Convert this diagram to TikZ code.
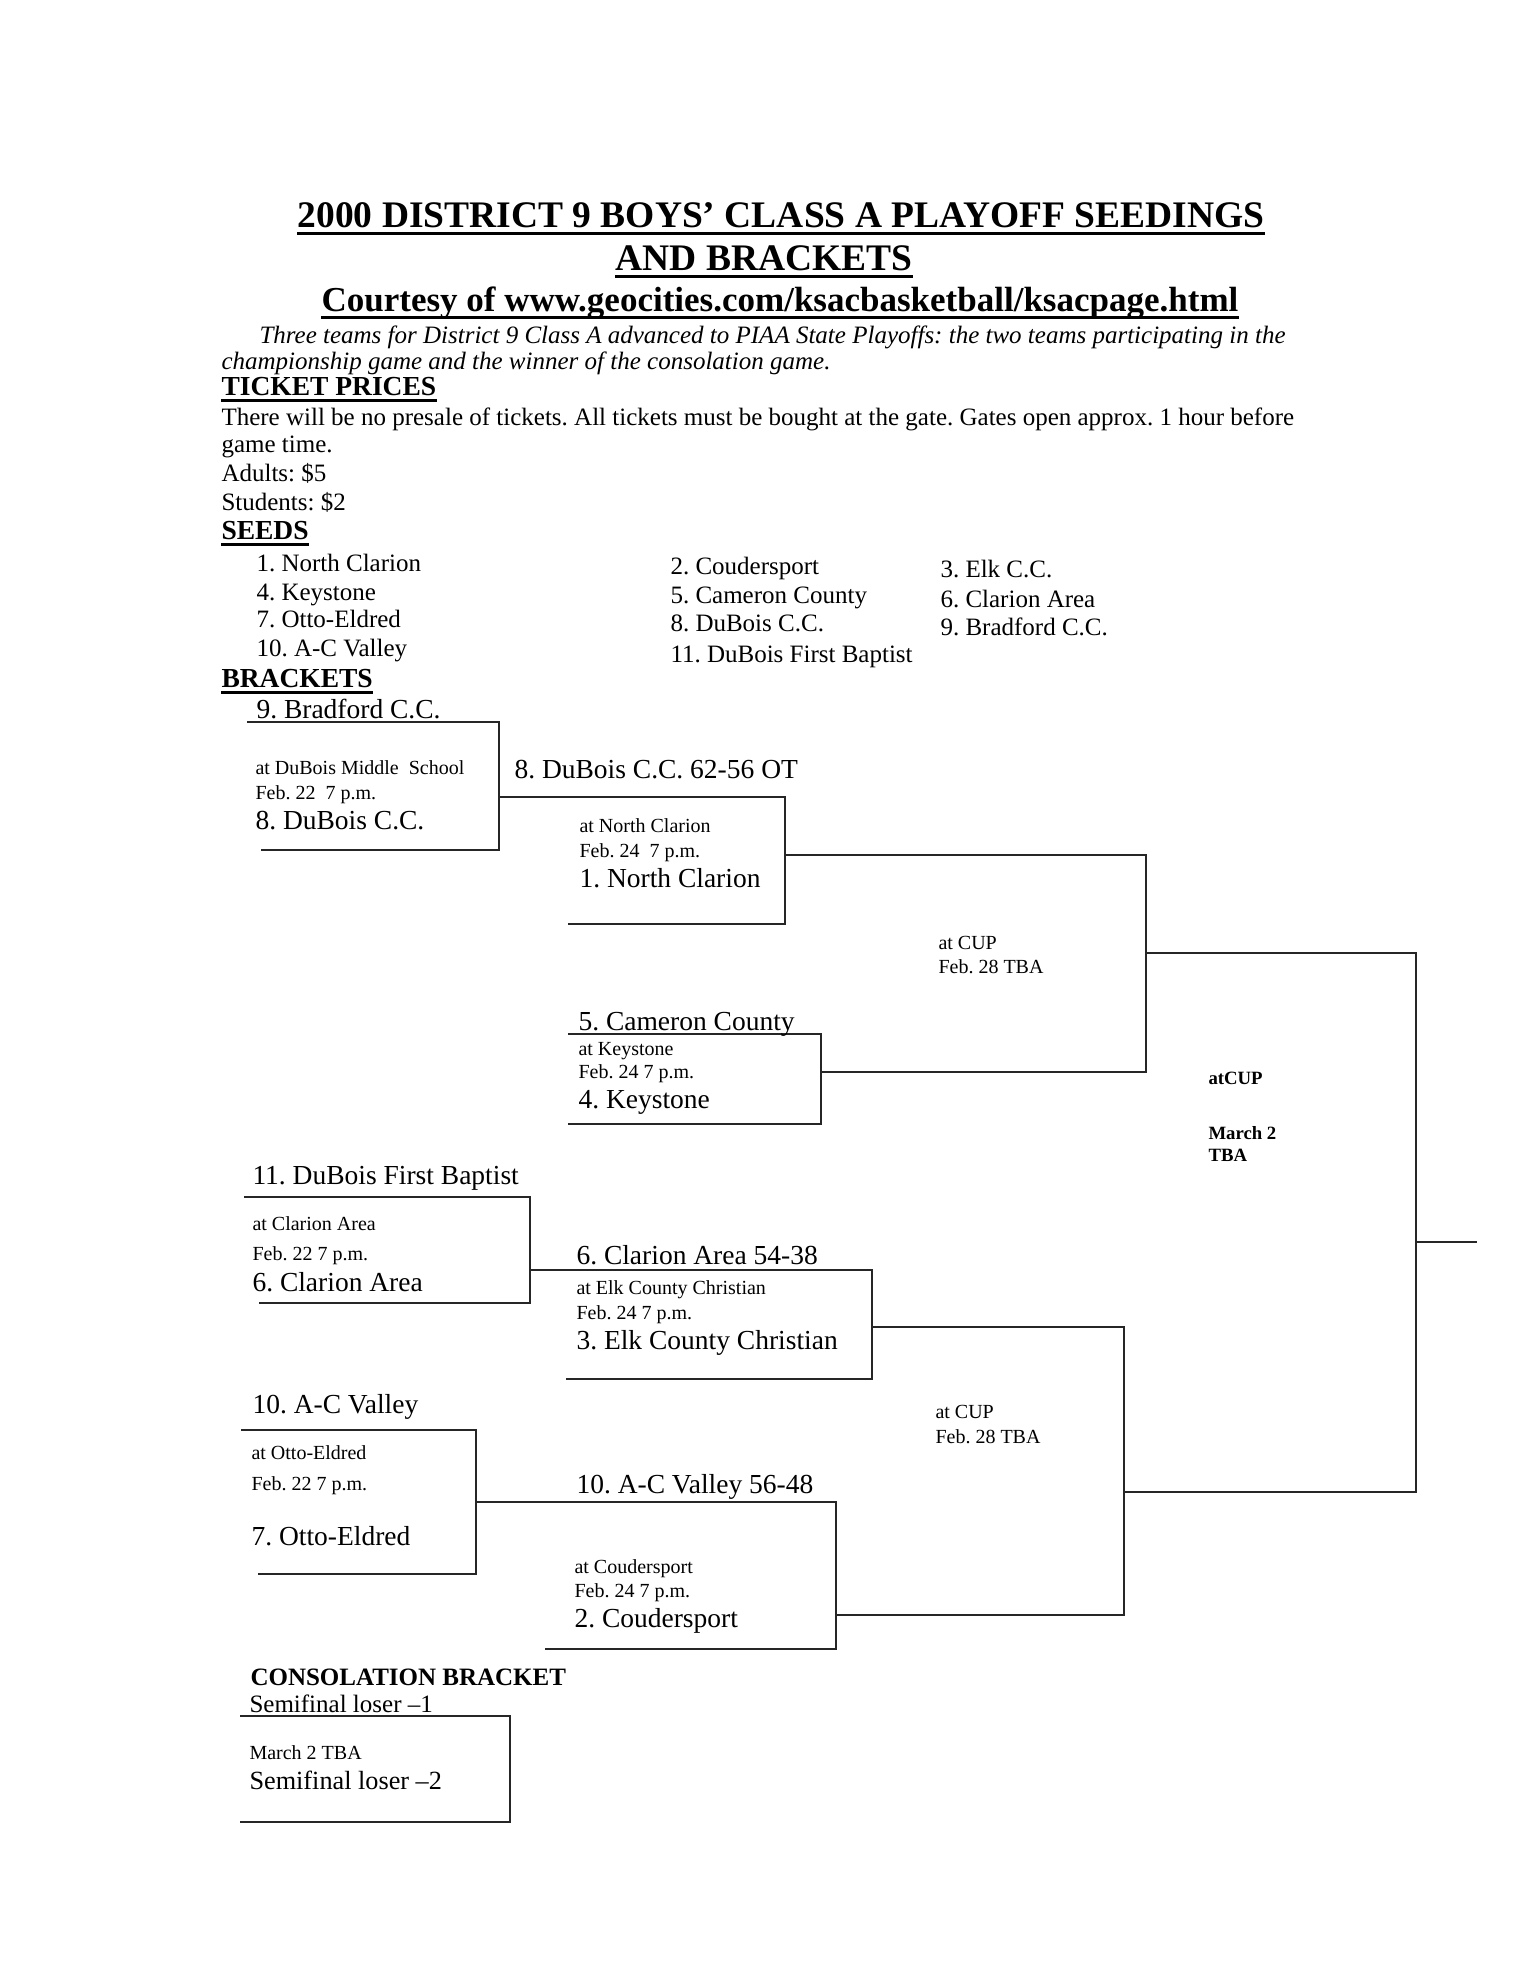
\documentclass[tikz,border=0pt]{standalone}
\usepackage{fontspec}
\setmainfont{Liberation Serif}
\frenchspacing

\begin{document}
\begin{tikzpicture}[
    x=0.4pt, y=-0.4pt,
    every node/.style={inner sep=0pt, anchor=base west},
    titletxt/.style={font=\bfseries\fontsize{15}{17}\selectfont, anchor=base},
    webtxt/.style={font=\bfseries\fontsize{14}{16}\selectfont, anchor=base},
    heading/.style={font=\bfseries\fontsize{11}{13}\selectfont},
    bodytxt/.style={font=\fontsize{10}{12}\selectfont},
    note/.style={font=\itshape\fontsize{10}{12}\selectfont},
    team/.style={font=\fontsize{11}{13}\selectfont},
    info/.style={font=\fontsize{8}{10}\selectfont},
    boldinfo/.style={font=\bfseries\fontsize{7.5}{9}\selectfont},
    bline/.style={line width=0.9pt, black!85},
    uline/.style={line width=1.2pt}
]

\fill[white] (0,0) rectangle (1530,1980);
\useasboundingbox (0,0) rectangle (1530,1980);

% Heading
\node[titletxt] (title1) at (781,227) {2000 DISTRICT 9 BOYS’ CLASS A PLAYOFF SEEDINGS};
\node[titletxt] (title2) at (764,270) {AND BRACKETS};
\node[webtxt] (web) at (780,311) {Courtesy of www.geocities.com/ksacbasketball/ksacpage.html};
\draw[uline] ([yshift=-2.5pt]title1.base west) -- ([yshift=-2.5pt]title1.base east);
\draw[uline] ([yshift=-2.5pt]title2.base west) -- ([yshift=-2.5pt]title2.base east);
\draw[uline] ([yshift=-2.5pt]web.base west) -- ([yshift=-2.5pt]web.base east);

\node[note] (note1) at (259,343) {Three teams for District 9 Class A advanced to PIAA State Playoffs: the two teams participating in the};
\node[note] (note2) at (221,369) {championship game and the winner of the consolation game.};

% Tickets
\node[heading] (tickets) at (221,395) {TICKET PRICES};
\draw[uline] ([yshift=-2pt]tickets.base west) -- ([yshift=-2pt]tickets.base east);
\node[bodytxt] (presale) at (221,425) {There will be no presale of tickets. All tickets must be bought at the gate. Gates open approx. 1 hour before};
\node[bodytxt] (gametime) at (221,452) {game time.};
\node[bodytxt] (adults) at (221,481) {Adults: \$5};
\node[bodytxt] (students) at (221,510) {Students: \$2};

% Seeds
\node[heading] (seeds) at (221,539) {SEEDS};
\draw[uline] ([yshift=-2pt]seeds.base west) -- ([yshift=-2pt]seeds.base east);
\node[bodytxt] (s1) at (256,571) {1. North Clarion};
\node[bodytxt] (s4) at (256,600) {4. Keystone};
\node[bodytxt] (s7) at (256,627) {7. Otto-Eldred};
\node[bodytxt] (s10) at (256,656) {10. A-C Valley};
\node[bodytxt] (s2) at (670,574) {2. Coudersport};
\node[bodytxt] (s5) at (670,603) {5. Cameron County};
\node[bodytxt] (s8) at (670,631) {8. DuBois C.C.};
\node[bodytxt] (s11) at (670,662) {11. DuBois First Baptist};
\node[bodytxt] (s3) at (940,577) {3. Elk C.C.};
\node[bodytxt] (s6) at (940,607) {6. Clarion Area};
\node[bodytxt] (s9) at (940,635) {9. Bradford C.C.};

% Brackets
\node[heading] (brackets) at (221,687) {BRACKETS};
\draw[uline] ([yshift=-2pt]brackets.base west) -- ([yshift=-2pt]brackets.base east);

% bracket corners
\coordinate (g1a) at (247,722);  \coordinate (g1b) at (499,722);
\coordinate (g1c) at (499,850);  \coordinate (g1d) at (261,850);
\coordinate (g1w) at (499,797);
\coordinate (g2b) at (785,797);  \coordinate (g2c) at (785,924);
\coordinate (g2d) at (568,924);  \coordinate (g2w) at (785,855);
\coordinate (g3a) at (568,1034); \coordinate (g3b) at (821,1034);
\coordinate (g3c) at (821,1124); \coordinate (g3d) at (568,1124);
\coordinate (g3w) at (821,1072);
\coordinate (sf1a) at (1146,855); \coordinate (sf1c) at (1146,1072);
\coordinate (sf1w) at (1146,953);
\coordinate (fa) at (1416,953);  \coordinate (fc) at (1416,1492);
\coordinate (fw) at (1416,1242); \coordinate (champ) at (1477,1242);
\coordinate (g4a) at (244,1197); \coordinate (g4b) at (530,1197);
\coordinate (g4c) at (530,1303); \coordinate (g4d) at (259,1303);
\coordinate (g4w) at (530,1270);
\coordinate (g5b) at (872,1270); \coordinate (g5c) at (872,1379);
\coordinate (g5d) at (566,1379); \coordinate (g5w) at (872,1327);
\coordinate (g6a) at (241,1430); \coordinate (g6b) at (476,1430);
\coordinate (g6c) at (476,1574); \coordinate (g6d) at (258,1574);
\coordinate (g6w) at (476,1502);
\coordinate (g7b) at (836,1502); \coordinate (g7c) at (836,1649);
\coordinate (g7d) at (545,1649); \coordinate (g7w) at (836,1615);
\coordinate (sf2a) at (1124,1327); \coordinate (sf2c) at (1124,1615);
\coordinate (sf2w) at (1124,1492);
\coordinate (ca) at (240,1716); \coordinate (cb) at (510,1716);
\coordinate (cc) at (510,1822); \coordinate (cd) at (240,1822);

% bracket lines
\draw[bline] (g1a) -- (g1b) -- (g1c) -- (g1d);
\draw[bline] (g1w) -- (g2b) -- (g2c) -- (g2d);
\draw[bline] (g3a) -- (g3b) -- (g3c) -- (g3d);
\draw[bline] (g2w) -- (sf1a) -- (sf1c) -- (g3w);
\draw[bline] (sf1w) -- (fa) -- (fc) -- (sf2w);
\draw[bline] (fw) -- (champ);
\draw[bline] (g4a) -- (g4b) -- (g4c) -- (g4d);
\draw[bline] (g4w) -- (g5b) -- (g5c) -- (g5d);
\draw[bline] (g6a) -- (g6b) -- (g6c) -- (g6d);
\draw[bline] (g6w) -- (g7b) -- (g7c) -- (g7d);
\draw[bline] (g5w) -- (sf2a) -- (sf2c) -- (g7w);
\draw[bline] (ca) -- (cb) -- (cc) -- (cd);

% top half
\node[team] (t9) at (256,718) {9. Bradford C.C.};
\node[info] (g1site) at (255,774) {at DuBois Middle\ \ School};
\node[info] (g1date) at (255,799) {Feb. 22\ \ 7 p.m.};
\node[team] (t8) at (255,829) {8. DuBois C.C.};
\node[team] (g1res) at (514,778) {8. DuBois C.C. 62-56 OT};
\node[info] (g2site) at (579,832) {at North Clarion};
\node[info] (g2date) at (579,857) {Feb. 24\ \ 7 p.m.};
\node[team] (t1) at (579,887) {1. North Clarion};
\node[info] (sf1site) at (938,949) {at CUP};
\node[info] (sf1date) at (938,973) {Feb. 28 TBA};
\node[team] (t5) at (578,1030) {5. Cameron County};
\node[info] (g3site) at (578,1055) {at Keystone};
\node[info] (g3date) at (578,1078) {Feb. 24 7 p.m.};
\node[team] (t4) at (578,1108) {4. Keystone};
\node[boldinfo] (fsite) at (1208,1084) {atCUP};
\node[boldinfo] (fdate) at (1208,1139) {March 2};
\node[boldinfo] (ftime) at (1208,1161) {TBA};

% bottom half
\node[team] (t11) at (252,1184) {11. DuBois First Baptist};
\node[info] (g4site) at (252,1230) {at Clarion Area};
\node[info] (g4date) at (252,1260) {Feb. 22 7 p.m.};
\node[team] (t6) at (252,1291) {6. Clarion Area};
\node[team] (g4res) at (576,1264) {6. Clarion Area 54-38};
\node[info] (g5site) at (576,1294) {at Elk County Christian};
\node[info] (g5date) at (576,1319) {Feb. 24 7 p.m.};
\node[team] (t3) at (576,1349) {3. Elk County Christian};
\node[team] (t10) at (252,1413) {10. A-C Valley};
\node[info] (g6site) at (251,1459) {at Otto-Eldred};
\node[info] (g6date) at (251,1490) {Feb. 22 7 p.m.};
\node[team] (t7) at (251,1545) {7. Otto-Eldred};
\node[team] (g6res) at (576,1493) {10. A-C Valley 56-48};
\node[info] (sf2site) at (935,1418) {at CUP};
\node[info] (sf2date) at (935,1443) {Feb. 28 TBA};
\node[info] (g7site) at (574,1573) {at Coudersport};
\node[info] (g7date) at (574,1597) {Feb. 24 7 p.m.};
\node[team] (t2) at (574,1627) {2. Coudersport};

% Consolation
\node[heading, font=\bfseries\fontsize{10}{12}\selectfont] (consol) at (250,1685) {CONSOLATION BRACKET};
\node[bodytxt] (loser1) at (249,1712) {Semifinal loser –1};
\node[info] (cdate) at (249,1759) {March 2 TBA};
\node[bodytxt, font=\fontsize{10.5}{12}\selectfont] (loser2) at (249,1789) {Semifinal loser –2};

\end{tikzpicture}
\end{document}
